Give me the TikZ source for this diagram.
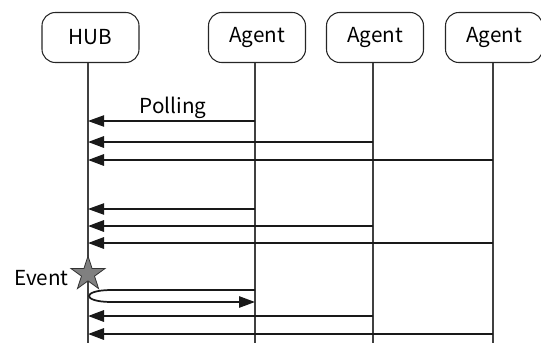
\documentclass[tikz,border=0pt]{standalone}
\usepackage{fontspec}
\setmainfont{Noto Sans CJK JP}
\usetikzlibrary{arrows.meta,shapes.geometric}
\begin{document}
\begin{tikzpicture}[x=0.75pt,y=-0.75pt,
  actor/.style={draw=black!85,line width=0.8pt,rounded corners=10pt,
    minimum width=72.75pt,minimum height=37.5pt,inner sep=0pt,
    font=\fontsize{15.5}{18}\selectfont},
  lifeline/.style={draw=black!75,line width=0.8pt},
  msg/.style={draw=black!90,line width=0.8pt,-{Triangle[length=12pt,width=8.5pt]}},
  msgthick/.style={msg,line width=1.6pt},
  lbl/.style={font=\fontsize{15.5}{18}\selectfont,inner sep=0pt}]
\useasboundingbox (0,0) rectangle (541,343);

% participants
\node[actor] (hub) at (90.5,37.5) {HUB};
\node[actor] (ag1) at (257,37.5) {Agent};
\node[actor] (ag2) at (375,37.5) {Agent};
\node[actor] (ag3) at (494,37.5) {Agent};

% lifelines
\coordinate (hubEnd) at (88,343);
\coordinate (ag1End) at (255,343);
\coordinate (ag2End) at (373,343);
\coordinate (ag3End) at (493,343);
\draw[lifeline] (hub.south -| hubEnd) -- (hubEnd);
\draw[lifeline] (ag1.south -| ag1End) -- (ag1End);
\draw[lifeline] (ag2.south -| ag2End) -- (ag2End);
\draw[lifeline] (ag3.south -| ag3End) -- (ag3End);

% message points
\foreach \n/\y in {1/121,2/142,3/160,4/209,5/226,6/243,7/316,8/334}{
  \coordinate (h\n) at (88,\y);
  \coordinate (p1\n) at (255,\y);
  \coordinate (p2\n) at (373,\y);
  \coordinate (p3\n) at (493,\y);
}

% first polling round
\draw[msg] (p11) -- (h1);
\draw[msgthick] (p22) -- (h2);
\draw[msgthick] (p33) -- (h3);
\node[lbl] (poll) at (173,108) {Polling};

% second polling round
\draw[msg] (p14) -- (h4);
\draw[msgthick] (p25) -- (h5);
\draw[msgthick] (p36) -- (h6);

% event on the hub
\node[star,star points=5,star point ratio=2.618,minimum size=27pt,inner sep=0pt,
  fill=black!50,draw=black!80,line width=0.6pt] (ev) at (88,274) {};
\node[lbl,anchor=east] (evl) at (69,278) {Event};

% hub reaches the agent at once
\coordinate (la) at (255,290);
\coordinate (lb) at (255,302);
\draw[msg,line width=1.3pt] (la) -- (110,290)
  .. controls (82,290.5) and (82,301.5) .. (110,302) -- (lb);

% third polling round
\draw[msgthick] (p27) -- (h7);
\draw[msgthick] (p38) -- (h8);
\end{tikzpicture}
\end{document}
